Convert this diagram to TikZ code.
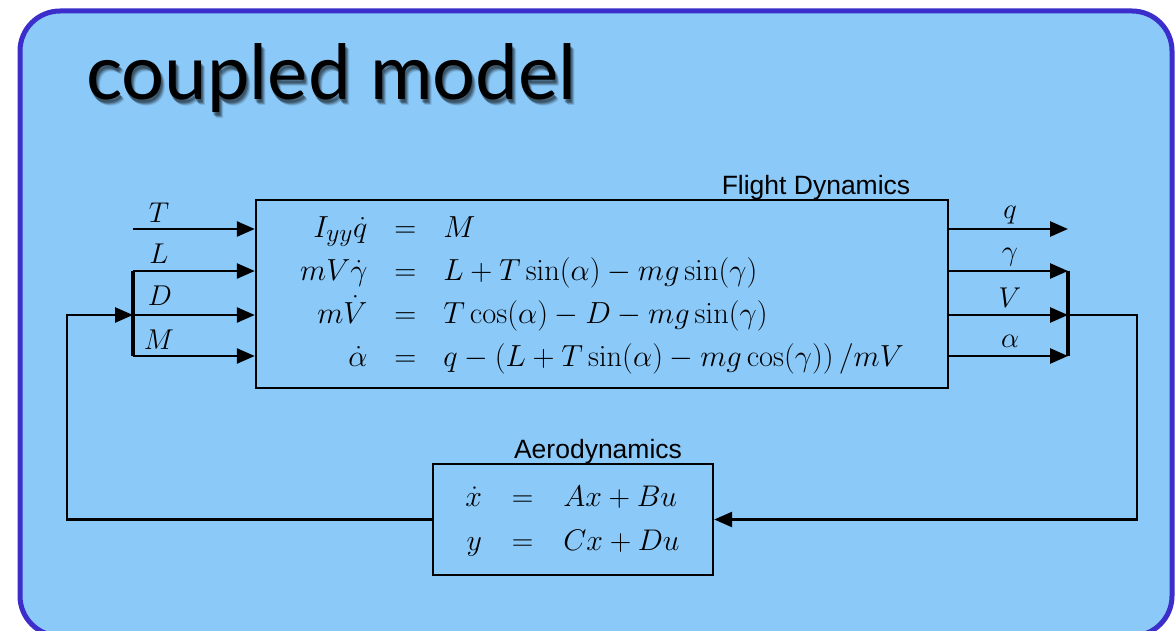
\documentclass[tikz,border=0pt]{standalone}
\usepackage[no-math]{fontspec}
\usepackage{amsmath}
\usetikzlibrary{arrows.meta,calc}
\newfontfamily\helv{Liberation Sans}
\newfontfamily\ttlfont{Lato}
\definecolor{bgblue}{HTML}{8BC9F9}
\definecolor{bordblue}{HTML}{3B2ECB}
\newcommand{\scmath}[2]{\scalebox{#1}{\fontsize{24.88}{36}\selectfont$#2$}}
\begin{document}
\begin{tikzpicture}[x=1pt,y=-1pt,
  arr/.style={line width=2.6pt,-{Triangle[length=18pt,width=15pt]}},
  bar/.style={line width=4pt},
  blk/.style={draw,line width=2.4pt,inner sep=0pt},
  lbl/.style={inner sep=0pt},
  blkcaption/.style={font=\helv\fontsize{26.5}{30}\selectfont,inner sep=0pt,anchor=base}]
\useasboundingbox (0,0) rectangle (1176,631);
\fill[white] (0,0) rectangle (1176,631);
\draw[fill=bgblue,draw=bordblue,line width=5pt,rounded corners=40pt] (20,11) rectangle (1172,636);
% title with shadow
\foreach \dx/\dy/\op in {2/4/0.25,3/5/0.2,1/3/0.2,4/6/0.12}{
  \node[anchor=base west,inner sep=0pt,font=\ttlfont\fontsize{76}{80}\selectfont,text=black,opacity=\op] at (86+\dx,100+\dy) {coupled model};}
\node[anchor=base west,inner sep=0pt,font=\ttlfont\fontsize{76}{80}\selectfont] (title) at (86,100) {coupled model};
% blocks
\node[blk,minimum width=692pt,minimum height=188pt] (FD) at (602,294) {};
\node[blkcaption] (FDcap) at (816,195) {Flight Dynamics};
\node[inner sep=0pt] (FDeq) at (602,293) {\scmath{1.225}{\begin{array}{r@{\hspace{22pt}}c@{\hspace{22pt}}l}
I_{yy}\dot q & = & M\\[-0.8pt]
mV\dot\gamma & = & L+T\sin(\alpha)-mg\sin(\gamma)\\[-0.8pt]
m\dot V & = & T\cos(\alpha)-D-mg\sin(\gamma)\\[-0.8pt]
\dot\alpha & = & q-\left(L+T\sin(\alpha)-mg\cos(\gamma)\right)/mV
\end{array}}};
\node[blk,minimum width=280pt,minimum height=111pt] (AD) at (573,519.5) {};
\node[blkcaption] (ADcap) at (598,458) {Aerodynamics};
\node[inner sep=0pt] (ADeq) at (572.5,520) {\scmath{1.2}{\begin{array}{r@{\hspace{25pt}}c@{\hspace{25pt}}l}
\dot x & = & Ax+Bu\\[0.5pt]
y & = & Cx+Du
\end{array}}};
% inputs
\coordinate (tin) at (133,229);
\coordinate (lin) at (133,271);
\coordinate (din) at (133,315);
\coordinate (min) at (133,356);
\coordinate (fbl) at (67,315);
\draw[arr] (tin) -- (tin -| FD.west);
\draw[arr] (lin) -- (lin -| FD.west);
\draw[arr] (din) -- (din -| FD.west);
\draw[arr] (min) -- (min -| FD.west);
\draw[bar] (lin) -- (min);
\draw[arr] (AD.west) -- (AD.west -| fbl) -- (fbl) -- (din);
\node[lbl] (Tl) at (159,213) {\scmath{1.15}{T}};
\node[lbl] (Ll) at (159,254) {\scmath{1.15}{L}};
\node[lbl] (Dl) at (160,296) {\scmath{1.15}{D}};
\node[lbl] (Ml) at (159,340) {\scmath{1.15}{M}};
% outputs
\coordinate (qo) at (1068,229);
\coordinate (go) at (1068,271);
\coordinate (vo) at (1068,315);
\coordinate (ao) at (1068,356);
\coordinate (fbr) at (1137,315);
\draw[arr] (qo -| FD.east) -- (qo);
\draw[arr] (go -| FD.east) -- (go);
\draw[arr] (vo -| FD.east) -- (vo);
\draw[arr] (ao -| FD.east) -- (ao);
\draw[bar] (go) -- (ao);
\draw[arr] (vo) -- (fbr) -- (fbr |- AD.east) -- (AD.east);
\node[lbl] (ql) at (1010,215) {\scmath{1.15}{q}};
\node[lbl] (gl) at (1010,257) {\scmath{1.15}{\gamma}};
\node[lbl] (Vl) at (1010,298) {\scmath{1.15}{V}};
\node[lbl] (al) at (1010,341) {\scmath{1.15}{\alpha}};
\end{tikzpicture}
\end{document}
